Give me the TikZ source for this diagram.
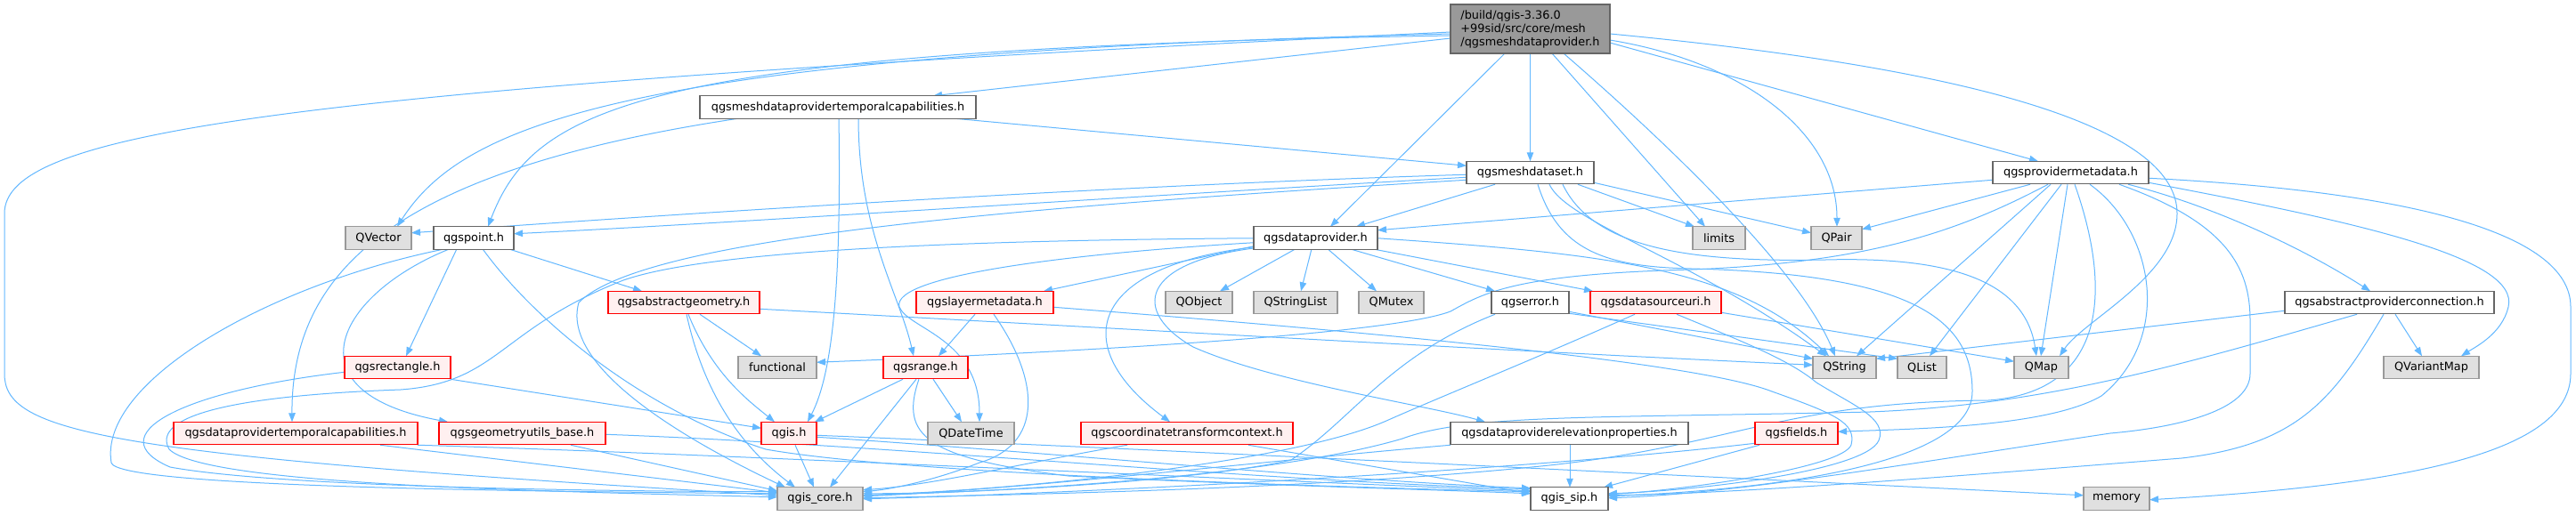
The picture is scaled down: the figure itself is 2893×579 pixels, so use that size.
\documentclass[tikz,border=0pt]{standalone}
\usepackage{fontspec}
\setmainfont{DejaVu Sans}
\usetikzlibrary{arrows.meta,calc,backgrounds}
\definecolor{edgec}{HTML}{63B8FF}
\definecolor{rootfill}{HTML}{999999}
\definecolor{darkbd}{HTML}{666666}
\definecolor{graybd}{HTML}{999999}
\definecolor{grayfill}{HTML}{E0E0E0}
\definecolor{redfill}{HTML}{FFF0F0}
\definecolor{redbd}{HTML}{FF0000}
\tikzset{
  box/.style={draw, line width=1.1pt, inner sep=0pt, outer sep=0pt, minimum height=25.5pt, font=\fontsize{12.85}{15}\selectfont, text=black},
  gbox/.style={box, draw=graybd, fill=grayfill},
  wbox/.style={box, draw=darkbd, fill=white},
  rbox/.style={box, draw=redbd, fill=redfill},
  rootbox/.style={box, draw=darkbd, fill=rootfill, align=left},
  dep/.style={draw=edgec, line width=1pt, -{Triangle[length=10pt,width=7.5pt]}},
}
\begin{document}
\begin{tikzpicture}[x=1pt,y=-1pt]
\useasboundingbox (0,0) rectangle (2893,579);
% nodes
\node[rootbox, minimum width=179pt, minimum height=55pt] (root) at (1718.5,32.5) {/build/qgis-3.36.0\\+99sid/src/core/mesh\\/qgsmeshdataprovider.h};
\node[wbox, minimum width=310pt] (tempcap) at (941,120.5) {qgsmeshdataprovidertemporalcapabilities.h};
\node[wbox, minimum width=143pt] (meshds) at (1718.5,194) {qgsmeshdataset.h};
\node[wbox, minimum width=175pt] (provmeta) at (2325.5,194) {qgsprovidermetadata.h};
\node[gbox, minimum width=74pt] (qvector) at (425,267.5) {QVector};
\node[wbox, minimum width=90pt] (qgspoint) at (532,267.5) {qgspoint.h};
\node[wbox, minimum width=139pt] (dataprov) at (1477.5,267.5) {qgsdataprovider.h};
\node[gbox, minimum width=59pt] (limits) at (1930.5,267.5) {limits};
\node[gbox, minimum width=57pt] (qpair) at (2062.5,267.5) {QPair};
\node[rbox, minimum width=170pt] (absgeom) at (768,340) {qgsabstractgeometry.h};
\node[rbox, minimum width=154pt] (laymeta) at (1106,340) {qgslayermetadata.h};
\node[gbox, minimum width=75pt] (qobject) at (1346.5,340) {QObject};
\node[gbox, minimum width=94pt] (qstringlist) at (1455,340) {QStringList};
\node[gbox, minimum width=73pt] (qmutex) at (1562.5,340) {QMutex};
\node[wbox, minimum width=87pt] (qgserror) at (1718.5,340) {qgserror.h};
\node[rbox, minimum width=147pt] (dsuri) at (1859.5,340) {qgsdatasourceuri.h};
\node[wbox, minimum width=235pt] (absprov) at (2683.5,340) {qgsabstractproviderconnection.h};
\node[rbox, minimum width=119pt] (qgsrect) at (446.5,413) {qgsrectangle.h};
\node[gbox, minimum width=88pt] (functional) at (873,413) {functional};
\node[rbox, minimum width=95pt] (qgsrange) at (1039.5,413) {qgsrange.h};
\node[gbox, minimum width=71pt] (qstring) at (2071.5,413) {QString};
\node[gbox, minimum width=55pt] (qlist) at (2158.5,413) {QList};
\node[gbox, minimum width=61pt] (qmap) at (2292.5,413) {QMap};
\node[gbox, minimum width=107pt] (qvariantmap) at (2730.5,413) {QVariantMap};
\node[rbox, minimum width=274pt] (dptemp) at (332,487) {qgsdataprovidertemporalcapabilities.h};
\node[rbox, minimum width=187pt] (geomutils) at (586.5,487) {qgsgeometryutils\_base.h};
\node[rbox, minimum width=62pt] (qgish) at (886,487) {qgis.h};
\node[gbox, minimum width=97pt] (qdatetime) at (1090.5,487) {QDateTime};
\node[rbox, minimum width=238pt] (coordtc) at (1333,487) {qgscoordinatetransformcontext.h};
\node[wbox, minimum width=267pt] (elevprops) at (1762.5,487) {qgsdataproviderelevationproperties.h};
\node[rbox, minimum width=93pt] (qgsfields) at (2017.5,487) {qgsfields.h};
\node[gbox, minimum width=96pt] (qgiscore) at (921,560.5) {qgis\_core.h};
\node[wbox, minimum width=87pt] (qgissip) at (1762.5,560.5) {qgis\_sip.h};
\node[gbox, minimum width=74pt] (memory) at (2377,560.5) {memory};

\begin{pgfonlayer}{background}
\fill[white] (0,0) rectangle (2893,579);
% root
\draw[dep] ($(root.north west)+(0,31)$) .. controls (300,100) and (5,150) .. (5,240) -- (5,420) .. controls (5,485) and (110,512) .. ($(qgiscore.north west)+(0,9)$);
\draw[dep] ($(root.north west)+(0,33)$) .. controls (700,60) and (520,140) .. ($(qvector.north west)+(58,0)$);
\draw[dep] ($(root.north west)+(0,35)$) .. controls (720,55) and (600,120) .. ($(qgspoint.north west)+(61,0)$);
\draw[dep] ($(root.north west)+(0,38)$) -- ($(tempcap.north west)+(262,0)$);
\draw[dep] ($(root.north west)+(61,55)$) -- ($(dataprov.north west)+(86,0)$);
\draw[dep] (root) -- (meshds);
\draw[dep] ($(root.north west)+(114,55)$) -- ($(limits.north west)+(14,0)$);
\draw[dep] ($(root.north west)+(127,55)$) .. controls (1860,150) and (2020,300) .. ($(qstring.north west)+(25,0)$);
\draw[dep] ($(root.north west)+(179,40)$) .. controls (1960,70) and (2063,150) .. ($(qpair.north west)+(29,0)$);
\draw[dep] ($(root.north west)+(179,43)$) -- ($(provmeta.north west)+(51,0)$);
\draw[dep] ($(root.north west)+(179,33)$) .. controls (2250,80) and (2445,150) .. (2445,240) .. controls (2445,310) and (2340,360) .. ($(qmap.north west)+(51,0)$);
% tempcap
\draw[dep] ($(tempcap.north west)+(46,25)$) .. controls (450,190) and (327,300) .. ($(dptemp.north west)+(133,0)$);
\draw[dep] ($(tempcap.north west)+(281,25)$) -- ($(meshds.north west)+(0,5)$);
\draw[dep] ($(tempcap.north west)+(156,25)$) .. controls (945,320) and (935,420) .. ($(qgish.north west)+(52,0)$);
\draw[dep] ($(tempcap.north west)+(178,25)$) .. controls (964,260) and (1010,330) .. ($(qgsrange.north west)+(34,0)$);
% meshdataset
\draw[dep] ($(meshds.north west)+(0,15)$) .. controls (1200,210) and (700,245) .. ($(qvector.north west)+(74,7)$);
\draw[dep] ($(meshds.north west)+(0,18)$) .. controls (1200,225) and (800,252) .. ($(qgspoint.north west)+(90,8)$);
\draw[dep] ($(meshds.north west)+(0,21)$) .. controls (1100,235) and (720,270) .. (650,340) .. controls (630,410) and (760,490) .. ($(qgiscore.north west)+(9,0)$);
\draw[dep] ($(meshds.north west)+(32,26)$) -- ($(dataprov.north west)+(115,0)$);
\draw[dep] ($(meshds.north west)+(125,26)$) -- ($(limits.north west)+(2,0)$);
\draw[dep] ($(meshds.north west)+(143,24)$) -- ($(qpair.north west)+(0,7)$);
\draw[dep] ($(meshds.north west)+(93,26)$) .. controls (1760,250) and (1900,290) .. ($(qstring.north west)+(15,0)$);
\draw[dep] ($(meshds.north west)+(108,26)$) .. controls (1790,280) and (1900,295) .. (2050,292) .. controls (2200,288) and (2275,320) .. ($(qmap.north west)+(25,0)$);
\draw[dep] ($(meshds.north west)+(80,26)$) .. controls (1750,280) and (1800,300) .. (1900,302) .. controls (2150,308) and (2215,360) .. (2215,440) .. controls (2215,520) and (2000,550) .. ($(qgissip.north east)+(0,10)$);
% dataprovider
\draw[dep] ($(dataprov.north west)+(47,25)$) -- ($(qobject.north west)+(61,0)$);
\draw[dep] ($(dataprov.north west)+(65,25)$) -- ($(qstringlist.north west)+(53,0)$);
\draw[dep] ($(dataprov.north west)+(83,25)$) -- ($(qmutex.north west)+(20,0)$);
\draw[dep] ($(dataprov.north west)+(108,25)$) -- ($(qgserror.north west)+(4,0)$);
\draw[dep] ($(dataprov.north west)+(133,25)$) -- ($(dsuri.north west)+(3,0)$);
\draw[dep] ($(dataprov.north west)+(0,22)$) -- ($(laymeta.north west)+(143,0)$);
\draw[dep] ($(dataprov.north west)+(0,23)$) .. controls (1220,300) and (1200,390) .. ($(coordtc.north west)+(100,0)$);
\draw[dep] ($(dataprov.north west)+(2,24)$) .. controls (1280,295) and (1270,350) .. (1340,390) .. controls (1430,430) and (1600,455) .. ($(elevprops.north west)+(39,0)$);
\draw[dep] ($(dataprov.north west)+(0,18)$) .. controls (1200,285) and (1000,310) .. (1010,345) .. controls (1020,370) and (1100,380) .. ($(qdatetime.north west)+(58,0)$);
\draw[dep] ($(dataprov.north west)+(0,13)$) .. controls (1100,270) and (800,280) .. (700,315) .. controls (560,370) and (560,430) .. (450,438) .. controls (250,445) and (170,470) .. (190,505) .. controls (230,545) and (600,552) .. ($(qgiscore.north west)+(0,11)$);
\draw[dep] ($(dataprov.north east)+(0,13)$) .. controls (1800,285) and (1950,300) .. ($(qstring.north west)+(18,0)$);
% provider metadata
\draw[dep] ($(provmeta.north west)+(0,21)$) -- ($(dataprov.north east)+(0,4)$);
\draw[dep] ($(provmeta.north west)+(42,26)$) -- ($(qpair.north east)+(0,3)$);
\draw[dep] ($(provmeta.north west)+(62,26)$) .. controls (2200,260) and (2100,295) .. (1900,303) .. controls (1700,308) and (1665,330) .. (1629,350) .. controls (1550,380) and (1100,400) .. ($(functional.north east)+(0,7)$);
\draw[dep] ($(provmeta.north west)+(65,26)$) -- ($(qstring.north west)+(49,0)$);
\draw[dep] ($(provmeta.north west)+(77,26)$) -- ($(qlist.north west)+(36,0)$);
\draw[dep] ($(provmeta.north west)+(84,26)$) -- ($(qmap.north west)+(30,0)$);
\draw[dep] ($(provmeta.north west)+(109,26)$) .. controls (2420,260) and (2440,380) .. (2360,445) .. controls (2300,480) and (2150,482) .. ($(qgsfields.north east)+(0,11)$);
\draw[dep] ($(provmeta.north west)+(92,26)$) .. controls (2370,320) and (2370,440) .. (2233,450) .. controls (2000,452) and (1950,500) .. (1740,523) .. controls (1500,548) and (1200,555) .. ($(qgiscore.north east)+(0,12)$);
\draw[dep] ($(provmeta.north west)+(142,26)$) .. controls (2500,250) and (2527,300) .. (2527,360) -- (2527,420) .. controls (2527,460) and (2450,480) .. (2370,487) .. controls (2150,520) and (1950,555) .. ($(qgissip.north east)+(0,12)$);
\draw[dep] ($(provmeta.north west)+(152,26)$) .. controls (2480,230) and (2580,275) .. ($(absprov.north west)+(96,0)$);
\draw[dep] ($(provmeta.north east)+(0,24)$) .. controls (2650,250) and (2830,290) .. (2817,345) .. controls (2810,375) and (2780,390) .. ($(qvariantmap.north west)+(87,0)$);
\draw[dep] ($(provmeta.north east)+(0,19)$) .. controls (2700,215) and (2887,260) .. (2887,345) -- (2887,420) .. controls (2887,510) and (2700,545) .. ($(memory.north east)+(0,14)$);
% abstract provider connection
\draw[dep] ($(absprov.north west)+(0,22)$) -- ($(qstring.north east)+(0,3)$);
\draw[dep] ($(absprov.north west)+(124,26)$) -- ($(qvariantmap.north west)+(43,0)$);
\draw[dep] ($(absprov.north west)+(81,26)$) .. controls (2450,410) and (2300,455) .. (2100,463) .. controls (1800,470) and (1650,465) .. (1575,493) .. controls (1450,530) and (1200,550) .. ($(qgiscore.north east)+(0,9)$);
\draw[dep] ($(absprov.north west)+(111,26)$) .. controls (2620,450) and (2580,500) .. (2450,515) .. controls (2200,535) and (1950,555) .. ($(qgissip.north east)+(0,9)$);
% qgspoint
\draw[dep] ($(qgspoint.north west)+(13,25)$) .. controls (300,320) and (110,430) .. (125,520) .. controls (130,545) and (500,552) .. ($(qgiscore.north west)+(0,7)$);
\draw[dep] ($(qgspoint.north west)+(18,25)$) .. controls (380,330) and (320,440) .. ($(geomutils.north west)+(10,0)$);
\draw[dep] ($(qgspoint.north west)+(26,25)$) -- ($(qgsrect.north west)+(69,0)$);
\draw[dep] ($(qgspoint.north west)+(55,25)$) .. controls (600,360) and (720,460) .. (860,505) .. controls (1000,530) and (1400,545) .. ($(qgissip.north west)+(0,5)$);
\draw[dep] ($(qgspoint.north west)+(84,25)$) -- ($(absgeom.north west)+(38,0)$);
% abstract geometry
\draw[dep] ($(absgeom.north west)+(103,26)$) -- ($(functional.north west)+(26,0)$);
\draw[dep] ($(absgeom.north west)+(90,26)$) .. controls (800,420) and (840,450) .. ($(qgish.north west)+(15,0)$);
\draw[dep] ($(absgeom.north west)+(88,26)$) .. controls (790,440) and (830,500) .. ($(qgiscore.north west)+(20,0)$);
\draw[dep] ($(absgeom.north east)+(0,20)$) .. controls (1200,366) and (1700,395) .. ($(qstring.north west)+(0,10)$);
% layer metadata
\draw[dep] ($(laymeta.north west)+(66,26)$) -- ($(qgsrange.north west)+(62,0)$);
\draw[dep] ($(laymeta.north west)+(87,26)$) .. controls (1170,430) and (1170,500) .. (1100,520) .. controls (1050,540) and (1000,550) .. ($(qgiscore.north east)+(0,5)$);
\draw[dep] ($(laymeta.north east)+(0,18)$) .. controls (1500,370) and (1900,405) .. (1990,440) .. controls (2060,465) and (2085,475) .. (2079,500) .. controls (2070,525) and (1900,550) .. ($(qgissip.north east)+(0,8)$);
% qgsrange
\draw[dep] ($(qgsrange.north west)+(22,26)$) -- ($(qgish.north west)+(60,0)$);
\draw[dep] ($(qgsrange.north west)+(37,26)$) -- ($(qgiscore.north west)+(59,0)$);
\draw[dep] ($(qgsrange.north west)+(56,26)$) -- ($(qdatetime.north west)+(38,0)$);
\draw[dep] ($(qgsrange.north west)+(40,26)$) .. controls (1010,490) and (1040,515) .. (1200,535) .. controls (1400,545) and (1600,550) .. ($(qgissip.north west)+(0,7)$);
% qgsrectangle
\draw[dep] ($(qgsrect.north west)+(0,18)$) .. controls (200,440) and (110,490) .. (191,525) .. controls (300,545) and (600,552) .. ($(qgiscore.north west)+(0,5)$);
\draw[dep] ($(qgsrect.north west)+(119,26)$) -- ($(qgish.north west)+(0,7)$);
% data provider temporal capabilities
\draw[dep] ($(dptemp.north west)+(232,26)$) -- ($(qgiscore.north west)+(0,6)$);
\draw[dep] ($(dptemp.north east)+(0,26)$) .. controls (800,510) and (1400,540) .. ($(qgissip.north west)+(0,4)$);
% geometry utils
\draw[dep] ($(geomutils.north west)+(148,26)$) -- ($(qgiscore.north west)+(0,4)$);
\draw[dep] ($(geomutils.north east)+(0,14)$) .. controls (1000,500) and (1400,540) .. ($(qgissip.north west)+(0,2)$);
% qgis.h
\draw[dep] ($(qgish.north west)+(38,26)$) -- ($(qgiscore.north west)+(41,0)$);
\draw[dep] ($(qgish.north east)+(0,17)$) .. controls (1200,510) and (1500,540) .. ($(qgissip.north west)+(0,1)$);
\draw[dep] ($(qgish.north east)+(0,15)$) .. controls (1300,505) and (2000,540) .. ($(memory.north west)+(0,9)$);
% coordinate transform context
\draw[dep] ($(coordtc.north west)+(52,26)$) .. controls (1150,520) and (1050,545) .. ($(qgiscore.north east)+(0,3)$);
\draw[dep] ($(coordtc.north west)+(188,26)$) -- ($(qgissip.north west)+(0,7)$);
% elevation properties
\draw[dep] ($(elevprops.north west)+(134,26)$) -- ($(qgissip.north west)+(44,0)$);
\draw[dep] ($(elevprops.north west)+(0,26)$) .. controls (1400,520) and (1150,550) .. ($(qgiscore.north east)+(0,10)$);
% qgsfields
\draw[dep] ($(qgsfields.north west)+(0,24)$) .. controls (1700,530) and (1200,555) .. ($(qgiscore.north east)+(0,13)$);
\draw[dep] ($(qgsfields.north west)+(5,26)$) -- ($(qgissip.north west)+(82,0)$);
% qgserror
\draw[dep] ($(qgserror.north west)+(4,26)$) .. controls (1560,400) and (1520,470) .. (1450,517) .. controls (1350,540) and (1100,555) .. ($(qgiscore.north east)+(0,7)$);
\draw[dep] ($(qgserror.north east)+(0,23)$) -- ($(qstring.north west)+(0,3)$);
\draw[dep] ($(qgserror.north east)+(0,25)$) -- ($(qlist.north west)+(0,3)$);
% datasource uri
\draw[dep] ($(dsuri.north west)+(50,26)$) .. controls (1720,405) and (1620,445) .. (1557,473) .. controls (1450,520) and (1150,550) .. ($(qgiscore.north east)+(0,9)$);
\draw[dep] ($(dsuri.north east)+(0,24)$) -- ($(qmap.north west)+(0,6)$);
\draw[dep] ($(dsuri.north west)+(97,26)$) .. controls (1960,385) and (2010,405) .. (2040,430) .. controls (2080,455) and (2120,470) .. (2110,495) .. controls (2095,530) and (1900,552) .. ($(qgissip.north east)+(0,7)$);
\end{pgfonlayer}
\end{tikzpicture}
\end{document}
